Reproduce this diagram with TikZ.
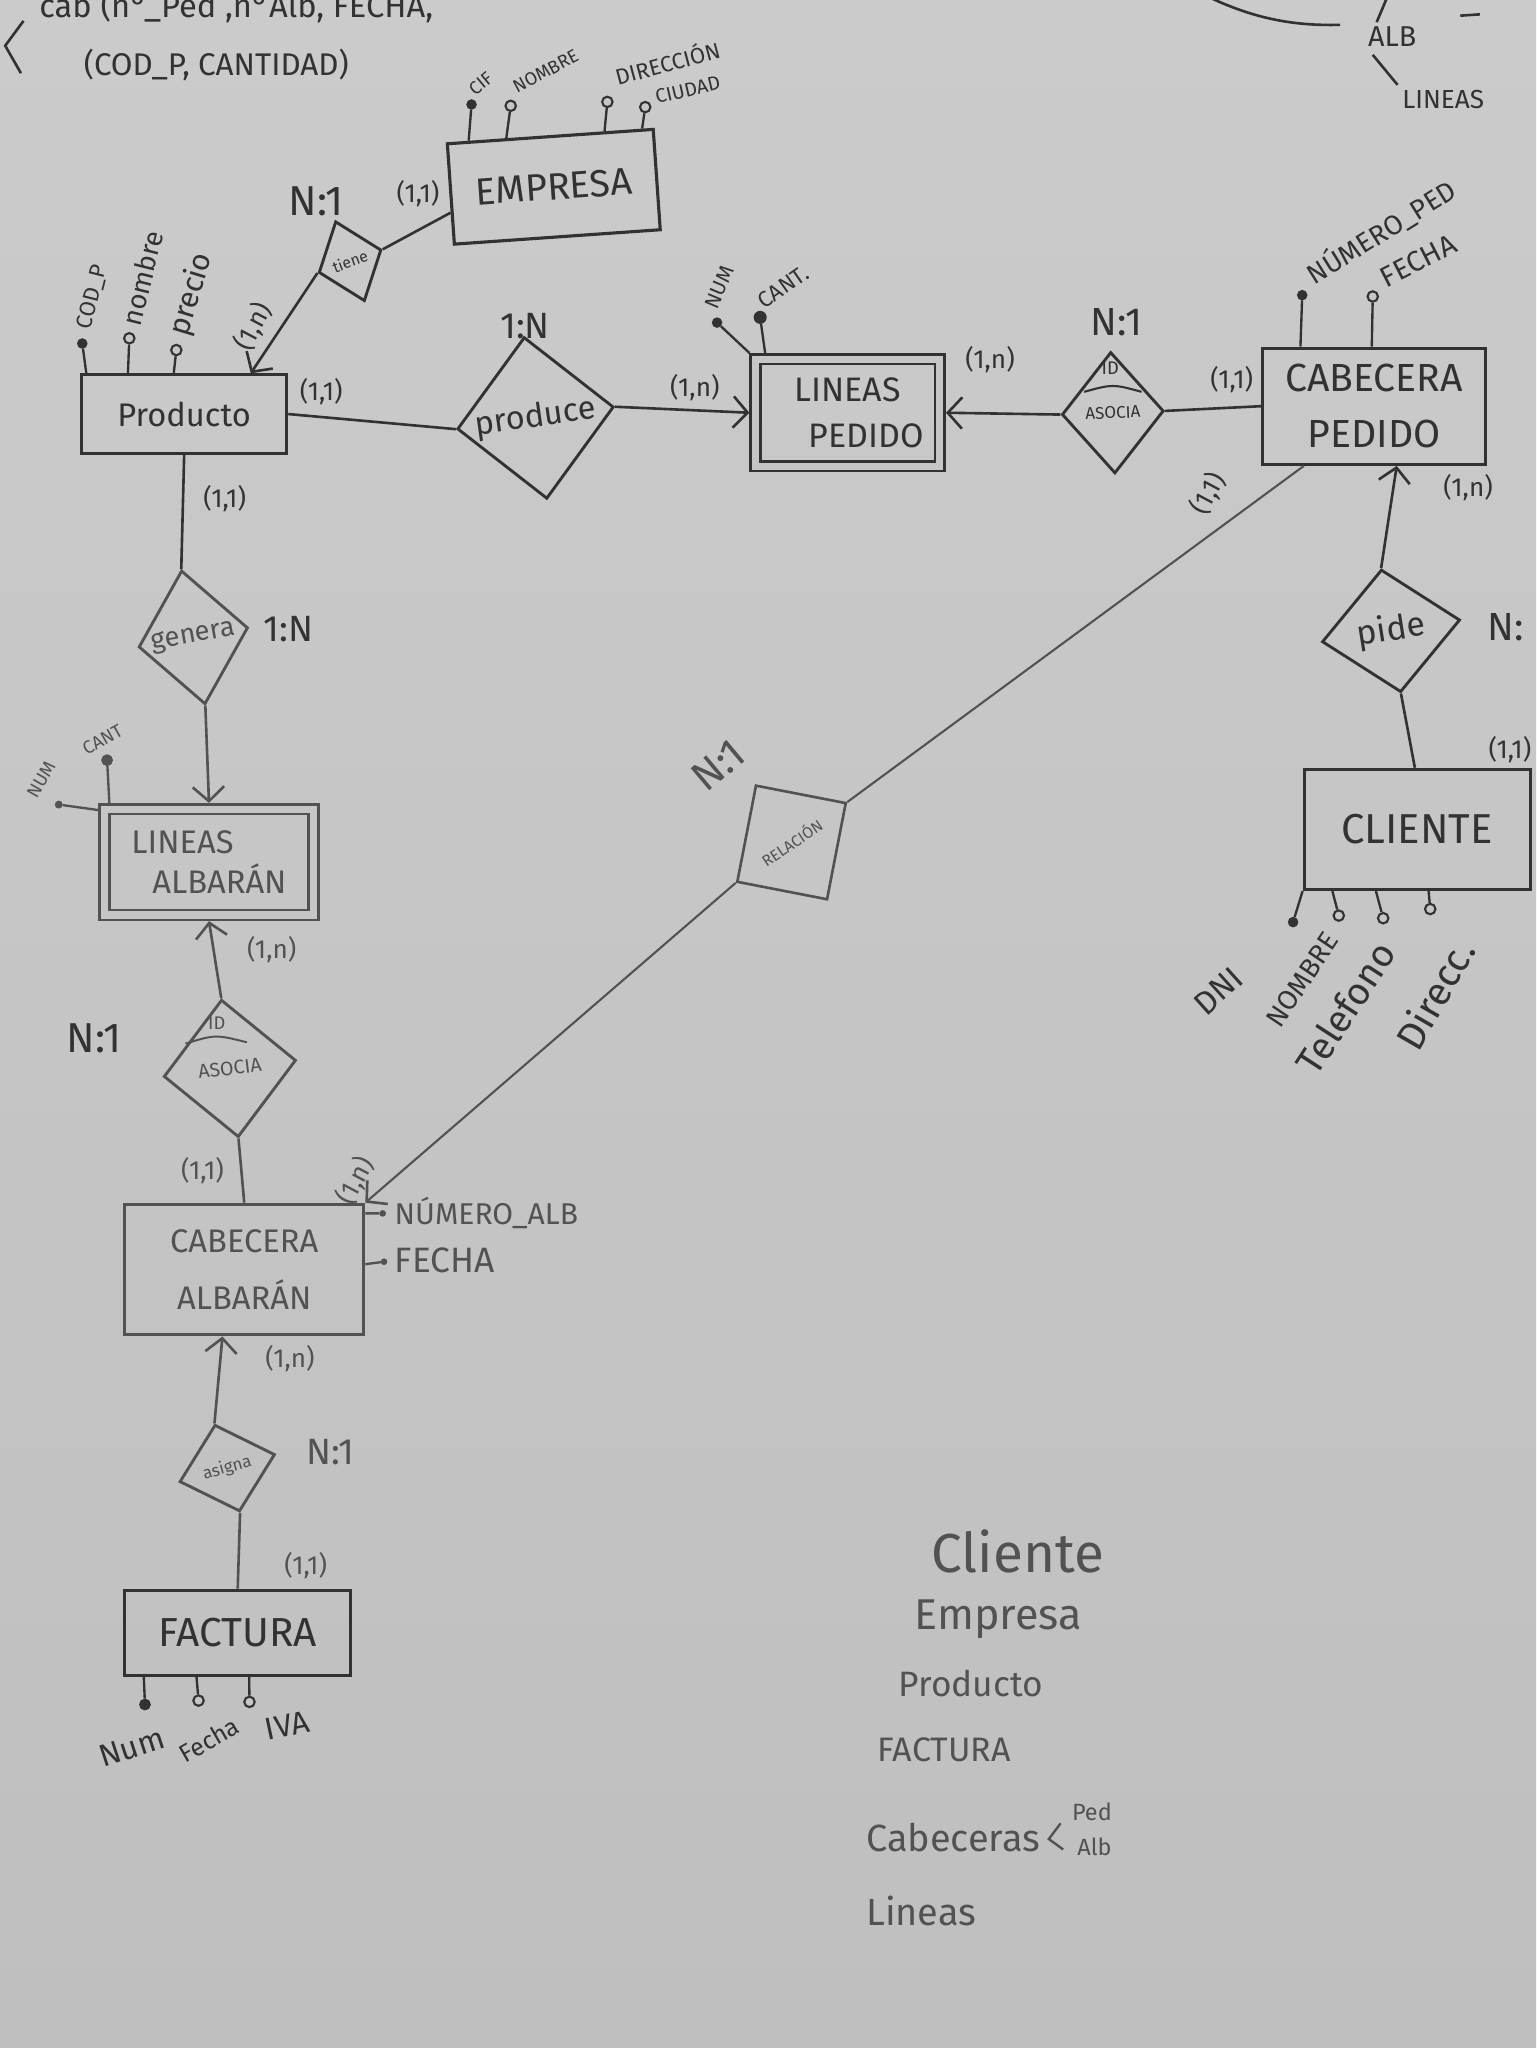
\documentclass[tikz,border=0pt]{standalone}
\usepackage{fontspec}
\setmainfont{Fira Sans}
\usetikzlibrary{shapes.geometric,arrows.meta,calc}
\definecolor{paper}{RGB}{198,198,198}
\definecolor{paperT}{RGB}{203,203,203}
\definecolor{paperB}{RGB}{191,191,191}
\definecolor{ink}{RGB}{50,50,50}
\definecolor{inkL}{RGB}{82,82,82}
\begin{document}
\begin{tikzpicture}[x=1pt,y=-1pt,
  fs/.style={font=\fontsize{#1}{#1}\selectfont},
  ent/.style={draw=ink, line width=2.4pt, rectangle, inner sep=0pt, text=ink, align=center},
  relbox/.style={draw=ink, line width=2.2pt, diamond, inner sep=0pt, text=ink, align=center},
  weak/.style={ent, double=paper, double distance=5.5pt, line width=2pt, outer sep=4.75pt},
  conn/.style={draw=ink, line width=2pt},
  arr/.style={conn, -{Straight Barb[length=11pt,width=24pt,line width=2pt]}},
  stem/.style={draw=ink, line width=1.8pt},
  kat/.style={circle, fill=ink, draw=ink, line width=1pt, inner sep=0pt, minimum size=7pt},
  oat/.style={circle, draw=ink, fill=paper, line width=1.6pt, inner sep=0pt, minimum size=8pt},
  lab/.style={text=ink, inner sep=0pt},
  card/.style={lab, fs=20},
]
\useasboundingbox (0,0) rectangle (1176,1568);
\clip (0,0) rectangle (1176,1568);
\shade[top color=paperT, bottom color=paperB] (0,0) rectangle (1176,1568);

% ---------- top notes ----------
\node[lab, fs=25, anchor=west] (n1) at (30,5) {cab (n°\_Ped ,n°Alb, FECHA,};
\node[lab, fs=24, anchor=west] (n2) at (64,50) {(COD\_P, CANTIDAD)};
\draw[ink, line width=2pt] (18,16) -- (4,35) -- (16,56);
\draw[ink, line width=2pt] (926,-2) .. controls (960,14) and (990,20) .. (1026,19);
\draw[ink, line width=2pt] (1062,-2) -- (1054,17);
\node[lab, fs=22] (n3) at (1066,28) {ALB};
\draw[ink, line width=2pt] (1051,42) -- (1070,65);
\node[lab, fs=20] (n4) at (1105,76) {LINEAS};
\draw[ink, line width=2pt] (1118,12) -- (1133,11);

% ---------- entities ----------
\node[ent, fs=29, minimum width=158pt, minimum height=77pt, rotate=4] (emp) at (424,143) {EMPRESA};
\node[ent, fs=25, minimum width=157pt, minimum height=60pt] (prod) at (141,317) {Producto};
\node[weak, font=\fontsize{26}{35}\selectfont, minimum width=141pt, minimum height=82pt] (linped) at (649,316) {LINEAS\\\hspace*{28pt}PEDIDO};
\node[ent, font=\fontsize{30}{43}\selectfont, minimum width=171pt, minimum height=89pt] (cabped) at (1052,311) {CABECERA\\PEDIDO};
\node[ent, fs=32, minimum width=173pt, minimum height=92pt] (cli) at (1085,635) {CLIENTE};
\node[weak, draw=inkL, text=inkL, font=\fontsize{25}{31}\selectfont, minimum width=160pt, minimum height=81pt, align=left] (linalb) at (160,660) {LINEAS\\\hspace*{16pt}ALBARÁN};
\node[ent, draw=inkL, text=inkL, font=\fontsize{25}{44}\selectfont, minimum width=183pt, minimum height=100pt] (cabalb) at (187,972) {CABECERA\\ALBARÁN};
\node[ent, fs=31, minimum width=173pt, minimum height=65pt] (fact) at (182,1250) {FACTURA};

% ---------- relationships ----------
\node[relbox, fs=12, minimum width=51pt, minimum height=65pt, rotate=20] (tiene) at (268,200) {tiene};
\node[relbox, fs=25, minimum width=121pt, minimum height=125pt, rotate=8] (produce) at (410,320) {produce};
\node[relbox, fs=13, minimum width=78pt, minimum height=93pt, rotate=2] (asocped) at (852,316) {ASOCIA};
\node[lab, fs=14] (idp) at (850,282) {ID};
\draw[ink, line width=1.6pt] ($(asocped.center)+(-22,-16)$) .. controls ($(asocped.center)+(0,-22)$) .. ($(asocped.center)+(22,-16)$);
\node[relbox, fs=26, minimum width=107pt, minimum height=95pt, rotate=9] (pide) at (1065,483) {pide};
\node[relbox, draw=inkL, text=inkL, fs=21, minimum width=85pt, minimum height=104pt, rotate=10] (genera) at (148,488) {genera};
\node[relbox, draw=inkL, text=inkL, fs=15, minimum width=102pt, minimum height=106pt, rotate=7] (asocalb) at (176,818) {ASOCIA};
\node[lab, text=inkL, fs=14] (ida) at (166,783) {ID};
\draw[inkL, line width=1.5pt] (142,799) .. controls (165,792) .. (189,798);
\node[relbox, draw=inkL, text=inkL, fs=13, minimum width=76pt, minimum height=69pt, rotate=16] (asigna) at (174,1124) {asigna};
\node[draw=inkL, line width=2pt, rectangle, inner sep=0pt, text=inkL, minimum width=70pt, minimum height=75pt, rotate=-11] (relac) at (606,645) {\fontsize{12}{12}\selectfont\rotatebox{45}{RELACIÓN}};

% ---------- connectors ----------
\draw[conn] ($(emp.north west)!0.68!(emp.south west)$) -- (tiene.east);
\draw[arr] (tiene.west) -- ($(prod.north west)!0.82!(prod.north east)$);
\draw[conn] (prod.east) -- (produce.west);
\draw[arr] (produce.east) -- (linped.west);
\draw[arr] (asocped.west) -- (linped.east);
\draw[conn] (asocped.east) -- (cabped.west);
\draw[conn, draw=inkL, line width=1.6pt] ($(cabped.south west)!0.19!(cabped.south east)$) -- (relac.north east);
\draw[arr, draw=inkL, line width=1.6pt] (relac.south west) -- (cabalb.north east);
\draw[arr] (pide.north) -- ($(cabped.south west)!0.6!(cabped.south east)$);
\draw[conn] (pide.south) -- ($(cli.north west)!0.49!(cli.north east)$);
\draw[conn] (prod.south) -- (genera.north);
\draw[arr, draw=inkL] (genera.south) -- (linalb.north);
\draw[arr, draw=inkL] (asocalb.north) -- (linalb.south);
\draw[conn, draw=inkL] (asocalb.south) -- (cabalb.north);
\draw[arr, draw=inkL] (asigna.north) -- ($(cabalb.south west)!0.41!(cabalb.south east)$);
\draw[conn, draw=inkL] (asigna.south) -- (fact.north);

% ---------- attributes: EMPRESA ----------
\node[kat] (e1) at (361,80) {};
\node[oat] (e2) at (391,81) {};
\node[oat] (e3) at (465,78) {};
\node[oat] (e4) at (494,82) {};
\draw[stem] (e1) -- ($(emp.north west)!0.11!(emp.north east)$);
\draw[stem] (e2) -- ($(emp.north west)!0.29!(emp.north east)$);
\draw[stem] (e3) -- ($(emp.north west)!0.76!(emp.north east)$);
\draw[stem] (e4) -- ($(emp.north west)!0.94!(emp.north east)$);
\node[lab, fs=14, rotate=40, anchor=south west] (e1l) at (364,74) {CIF};
\node[lab, fs=14, rotate=28, anchor=south west] (e2l) at (396,72) {NOMBRE};
\node[lab, fs=17, rotate=15, anchor=south west] (e3l) at (473,66) {DIRECCIÓN};
\node[lab, fs=15, rotate=13, anchor=south west] (e4l) at (503,80) {CIUDAD};

% ---------- attributes: Producto ----------
\node[kat] (p1) at (63,263) {};
\node[oat] (p2) at (99,259) {};
\node[oat] (p3) at (135,268) {};
\draw[stem] (p1) -- ($(prod.north west)!0.03!(prod.north east)$);
\draw[stem] (p2) -- ($(prod.north west)!0.23!(prod.north east)$);
\draw[stem] (p3) -- ($(prod.north west)!0.45!(prod.north east)$);
\node[lab, fs=17, rotate=76, anchor=west] (p1l) at (65,252) {COD\_P};
\node[lab, fs=21, rotate=76, anchor=west] (p2l) at (100,249) {nombre};
\node[lab, fs=23, rotate=73, anchor=west] (p3l) at (137,257) {precio};

% ---------- attributes: LINEAS PEDIDO ----------
\node[kat] (lp1) at (549,247) {};
\node[kat, minimum size=9pt] (lp2) at (582,243) {};
\draw[stem] (lp1) -- (linped.north west);
\draw[stem] (lp2) -- ($(linped.north west)!0.08!(linped.north east)$);
\node[lab, fs=16, rotate=67, anchor=west] (lp1l) at (544,236) {NUM};
\node[lab, fs=17, rotate=35, anchor=west] (lp2l) at (582,232) {CANT.};

% ---------- attributes: CABECERA PEDIDO ----------
\node[kat] (cp1) at (997,226) {};
\node[oat] (cp2) at (1051,227) {};
\draw[stem] (cp1) -- ($(cabped.north west)!0.175!(cabped.north east)$);
\draw[stem] (cp2) -- ($(cabped.north west)!0.49!(cabped.north east)$);
\node[lab, fs=21, rotate=32, anchor=west] (cp1l) at (1002,212) {NÚMERO\_PED};
\node[lab, fs=22, rotate=27, anchor=west] (cp2l) at (1058,214) {FECHA};

% ---------- attributes: CLIENTE ----------
\node[kat] (c1) at (990,706) {};
\node[oat] (c2) at (1025,701) {};
\node[oat] (c3) at (1059,703) {};
\node[oat] (c4) at (1095,696) {};
\draw[stem] (c1) -- ($(cli.south west)!0.0!(cli.south east)$);
\draw[stem] (c2) -- ($(cli.south west)!0.13!(cli.south east)$);
\draw[stem] (c3) -- ($(cli.south west)!0.32!(cli.south east)$);
\draw[stem] (c4) -- ($(cli.south west)!0.55!(cli.south east)$);
\node[lab, fs=25, rotate=42, anchor=east] (c1l) at (948,745) {DNI};
\node[lab, fs=21, rotate=56, anchor=east] (c2l) at (1020,716) {NOMBRE};
\node[lab, fs=29, rotate=57, anchor=east] (c3l) at (1061,724) {Telefono};
\node[lab, fs=30, rotate=60, anchor=east] (c4l) at (1121,722) {Direcc.};

% ---------- attributes: LINEAS ALBARAN ----------
\node[kat, fill=inkL, draw=inkL, minimum size=5pt] (la1) at (45,616) {};
\node[kat, fill=inkL, draw=inkL, minimum size=8pt] (la2) at (82,582) {};
\draw[stem, draw=inkL] (la1) -- ($(linalb.north west)!0.06!(linalb.south west)$);
\draw[stem, draw=inkL] (la2) -- ($(linalb.north west)!0.05!(linalb.north east)$);
\node[lab, text=inkL, fs=14, rotate=60, anchor=west] (la1l) at (24,610) {NUM};
\node[lab, text=inkL, fs=14, rotate=29, anchor=west] (la2l) at (64,574) {CANT};

% ---------- attributes: CABECERA ALBARAN ----------
\node[kat, fill=inkL, draw=inkL, minimum size=4pt] (ca1) at (293,929) {};
\node[kat, fill=inkL, draw=inkL, minimum size=4pt] (ca2) at (294,966) {};
\draw[stem, draw=inkL] (ca1) -- ($(cabalb.north east)!0.08!(cabalb.south east)$);
\draw[stem, draw=inkL] (ca2) -- ($(cabalb.north east)!0.46!(cabalb.south east)$);
\node[lab, text=inkL, fs=23, anchor=west] (ca1l) at (302,929) {NÚMERO\_ALB};
\node[lab, text=inkL, fs=27, anchor=west] (ca2l) at (302,965) {FECHA};

% ---------- attributes: FACTURA ----------
\node[kat, minimum size=8pt] (f1) at (111,1305) {};
\node[oat] (f2) at (152,1302) {};
\node[oat] (f3) at (191,1303) {};
\draw[stem] (f1) -- ($(fact.south west)!0.09!(fact.south east)$);
\draw[stem] (f2) -- ($(fact.south west)!0.32!(fact.south east)$);
\draw[stem] (f3) -- ($(fact.south west)!0.55!(fact.south east)$);
\node[lab, fs=24, rotate=18] (f1l) at (101,1338) {Num};
\node[lab, fs=19, rotate=30] (f2l) at (160,1332) {Fecha};
\node[lab, fs=24, rotate=12] (f3l) at (220,1321) {IVA};

% ---------- cardinalities ----------
\node[card] (k1) at (320,148) {(1,1)};
\node[lab, fs=32] (k2) at (242,154) {N:1};
\node[card, rotate=62] (k3) at (194,250) {(1,n)};
\node[card] (k4) at (246,300) {(1,1)};
\node[lab, fs=28] (k5) at (402,250) {1:N};
\node[card] (k6) at (532,297) {(1,n)};
\node[card] (k7) at (758,275) {(1,n)};
\node[lab, fs=30] (k8) at (855,247) {N:1};
\node[card] (k9) at (943,291) {(1,1)};
\node[card] (k10) at (172,382) {(1,1)};
\node[lab, fs=28] (k11) at (221,482) {1:N};
\node[card, rotate=62] (k12) at (925,378) {(1,1)};
\node[card] (k13) at (1124,373) {(1,n)};
\node[lab, fs=30] (k14) at (1153,480) {N:};
\node[card] (k15) at (1156,574) {(1,1)};
\node[card, text=inkL] (k16) at (208,727) {(1,n)};
\node[lab, fs=32] (k17) at (72,795) {N:1};
\node[card, text=inkL] (k18) at (155,896) {(1,1)};
\node[card, text=inkL, rotate=62] (k19) at (272,904) {(1,n)};
\node[lab, text=inkL, fs=32, rotate=40] (k20) at (550,586) {N:1};
\node[card, text=inkL] (k21) at (222,1040) {(1,n)};
\node[lab, text=inkL, fs=28] (k22) at (253,1112) {N:1};
\node[card, text=inkL] (k23) at (234,1199) {(1,1)};

% ---------- legend ----------
\node[lab, text=inkL, fs=42, anchor=west] (g1) at (713,1188) {Cliente};
\node[lab, text=inkL, fs=33, anchor=west] (g2) at (700,1240) {Empresa};
\node[lab, text=inkL, fs=27, anchor=west] (g3) at (688,1289) {Producto};
\node[lab, text=inkL, fs=26, anchor=west] (g4) at (672,1340) {FACTURA};
\node[lab, text=inkL, fs=29, anchor=west] (g5) at (663,1407) {Cabeceras};
\draw[inkL, line width=1.8pt] (812,1396) -- (803,1408) -- (814,1416);
\node[lab, text=inkL, fs=18] (g6) at (836,1387) {Ped};
\node[lab, text=inkL, fs=18] (g7) at (838,1414) {Alb};
\node[lab, text=inkL, fs=29, anchor=west] (g8) at (663,1463) {Lineas};
\end{tikzpicture}
\end{document}
